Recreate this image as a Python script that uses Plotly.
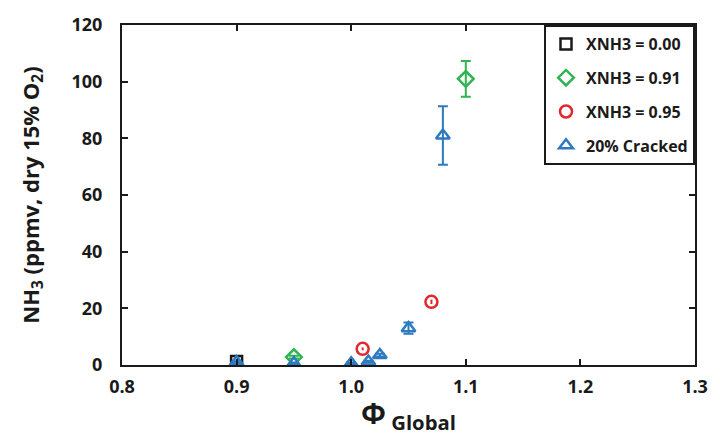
import plotly.graph_objects as go

# Data
phi_000 = [0.90]
nh3_000 = [1.2]

phi_091 = [0.95, 1.10]
nh3_091 = [2.8, 101.0]
err_091 = [0.5, 6.3]

phi_095 = [1.01, 1.07]
nh3_095 = [5.7, 22.3]
err_095 = [0.5, 0.8]

phi_crk = [0.90, 0.95, 1.00, 1.015, 1.025, 1.05, 1.08]
nh3_crk = [1.0, 0.6, 0.6, 1.2, 3.5, 13.0, 81.0]
err_crk = [0.3, 0.3, 0.3, 0.3, 0.5, 2.0, 10.3]

x_ticks = [0.8, 0.9, 1.0, 1.1, 1.2, 1.3]
x_labels = ["0.8", "0.9", "1.0", "1.1", "1.2", "1.3"]
y_ticks = [0, 20, 40, 60, 80, 100, 120]

FONT = "Open Sans"
BLACK = "#1a1a1a"
GREEN = "#2eb450"
RED = "#e0282e"
BLUE = "#2d7ac0"

fig = go.Figure()

fig.add_trace(go.Scatter(
    x=phi_000, y=nh3_000, mode="markers", name="<b>XNH3 = 0.00</b>",
    legendgroup="a",
    marker=dict(symbol="square-open", size=11, color=BLACK, line=dict(width=2.5, color=BLACK)),
))
fig.add_trace(go.Scatter(
    x=phi_091, y=nh3_091, mode="markers", name="<b>XNH3 = 0.91</b>",
    legendgroup="b",
    error_y=dict(type="data", array=err_091, color=GREEN, thickness=2, width=5),
    marker=dict(symbol="diamond-open", size=12, color=GREEN, line=dict(width=2.5, color=GREEN)),
))
fig.add_trace(go.Scatter(
    x=phi_095, y=nh3_095, mode="markers", name="<b>XNH3 = 0.95</b>",
    legendgroup="c",
    error_y=dict(type="data", array=err_095, color=RED, thickness=2, width=0),
    marker=dict(symbol="circle-open", size=12, color=RED, line=dict(width=2.5, color=RED)),
))
fig.add_trace(go.Scatter(
    x=phi_crk, y=nh3_crk, mode="markers", name="<b>20% Cracked</b>",
    legendgroup="d",
    error_y=dict(type="data", array=err_crk, color=BLUE, thickness=2, width=5),
    marker=dict(symbol="triangle-up-open", size=12, color=BLUE, line=dict(width=2.5, color=BLUE)),
))

fig.update_layout(
    width=720, height=436,
    margin=dict(l=122, r=23, t=20, b=71),
    paper_bgcolor="white", plot_bgcolor="white",
    font=dict(family=FONT, color=BLACK),
    showlegend=True,
    legend=dict(
        x=1.0, y=1.0, xanchor="right", yanchor="top",
        bgcolor="white", bordercolor=BLACK, borderwidth=2,
        font=dict(size=16, family=FONT, color=BLACK),
        tracegroupgap=10, itemwidth=30,
    ),
    xaxis=dict(
        range=[0.8, 1.3], tickvals=x_ticks, ticktext=["<b>%s</b>" % t for t in x_labels],
        showgrid=False, zeroline=False,
        showline=True, linecolor=BLACK, linewidth=2, mirror="ticks",
        ticks="inside", ticklen=6, tickwidth=1.5, tickcolor=BLACK,
        tickfont=dict(size=18, family=FONT, color=BLACK),
        ticklabelstandoff=4,
        title=dict(text="<b>Φ</b><sub><b> Global</b></sub>", font=dict(size=29, family=FONT, color=BLACK), standoff=0),
    ),
    yaxis=dict(
        range=[0, 120], tickvals=y_ticks, ticktext=["<b>%d</b>" % v for v in y_ticks],
        showgrid=False, zeroline=False,
        showline=True, linecolor=BLACK, linewidth=2, mirror="ticks",
        ticks="inside", ticklen=6, tickwidth=1.5, tickcolor=BLACK,
        tickfont=dict(size=18, family=FONT, color=BLACK),
        ticklabelstandoff=14,
        title=dict(text="<b>NH<sub>3</sub> (ppmv, dry 15% O<sub>2</sub>)</b>", font=dict(size=22, family=FONT, color=BLACK), standoff=26),
    ),
)

fig.write_html("out.html")
